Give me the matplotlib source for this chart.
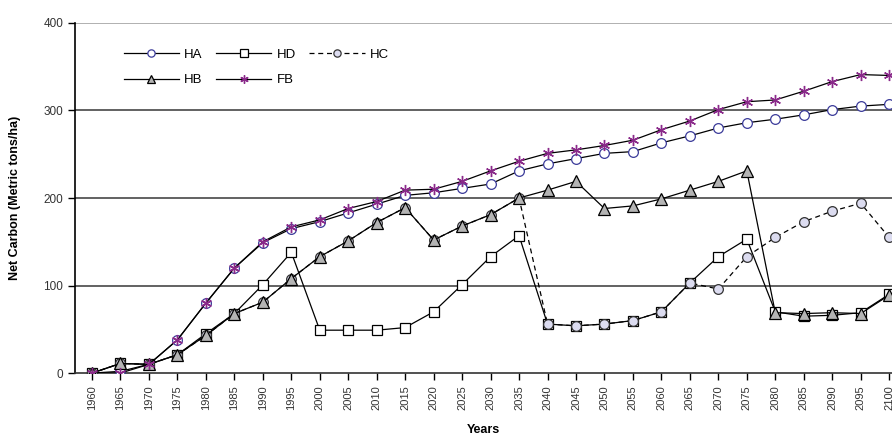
import matplotlib
matplotlib.use("Agg")
import matplotlib.pyplot as plt
import numpy as np

plt.rcParams['font.family'] = ['Liberation Sans', 'DejaVu Sans']

# data
years = list(range(1960, 2101, 5))
HA = [0, 2, 10, 38, 80, 120, 149, 165, 173, 183, 193, 203, 206, 211, 216, 231, 239, 245, 251, 253,
      263, 271, 280, 286, 290, 295, 301, 305, 307]
HB = [0, 11, 10, 21, 43, 68, 81, 108, 133, 151, 172, 189, 152, 168, 181, 200, 209, 219, 188, 191,
      199, 209, 219, 231, 69, 68, 69, 68, 89]
HD = [0, 11, 10, 21, 45, 68, 101, 138, 49, 49, 49, 52, 70, 101, 133, 157, 56, 54, 56, 60,
      70, 103, 133, 153, 70, 65, 66, 69, 90]
HC = [0, 11, 10, 21, 43, 68, 81, 108, 133, 151, 172, 189, 152, 168, 181, 200, 56, 54, 56, 60,
      70, 103, 96, 133, 155, 173, 185, 194, 155]
FB = [0, 0, 10, 38, 80, 120, 150, 167, 175, 188, 196, 209, 210, 219, 231, 242, 251, 255, 260, 266,
      278, 288, 301, 310, 312, 322, 333, 341, 340]

fig = plt.figure(figsize=(8.92, 4.41), dpi=100)
ax = fig.add_axes([0.084, 0.154, 0.916, 0.794])

for y in [100, 200, 300]:
    ax.axhline(y, color='#555555', lw=1.3, zorder=0)
ax.axhline(400, color='#aaaaaa', lw=1.3, zorder=0)

ax.plot(years, HA, color='black', lw=0.9, marker='o', ms=7, mfc='white', mec='#3b3b9a',
        mew=0.9, label='HA', zorder=3)
ax.plot(years, HB, color='black', lw=0.9, marker='^', ms=8, mfc='#b4b4b4', mec='black',
        mew=0.9, label='HB', zorder=5)
ax.plot(years, HD, color='black', lw=0.9, marker='s', ms=7, mfc='white', mec='black',
        mew=0.9, label='HD', zorder=3)
ax.plot(years, FB, color='black', lw=0.9, marker=(6, 2, 0), ms=8, mec='#8a2a8a',
        mew=1.0, label='FB', zorder=6)
ax.plot(years, HC, color='black', lw=0.9, ls=(0, (4, 3)), marker='o', ms=7, mfc='#dcdcf0',
        mec='#333333', mew=0.9, label='HC', zorder=4)

ax.set_xlim(1957, 2100.5)
ax.set_ylim(0, 400)
ax.set_xticks(years)
ax.set_xticklabels([str(y) for y in years], rotation=90, fontsize=8, color='#333333')
ax.set_yticks([0, 100, 200, 300, 400])
ax.set_yticklabels(['0', '100', '200', '300', '400'], fontsize=8.5, color='#333333')
ax.tick_params(direction='out', length=5, width=1)

for s in ['top', 'right']:
    ax.spines[s].set_visible(False)
ax.spines['left'].set_linewidth(1.2)
ax.spines['bottom'].set_linewidth(1.2)
ax.spines['bottom'].set_color('#333333')

ax.set_xlabel('Years', fontsize=9, fontweight='bold', labelpad=10)
ax.set_ylabel('Net Carbon (Metric tons/ha)', fontsize=9, fontweight='bold', labelpad=16)

ax.legend(ncol=3, loc='upper left', bbox_to_anchor=(0.045, 0.96), frameon=False,
          fontsize=9.5, handlelength=4.2, columnspacing=1.0, handletextpad=0.4,
          labelspacing=1.0, markerscale=0.75)

fig.savefig('out.png', dpi=100)
